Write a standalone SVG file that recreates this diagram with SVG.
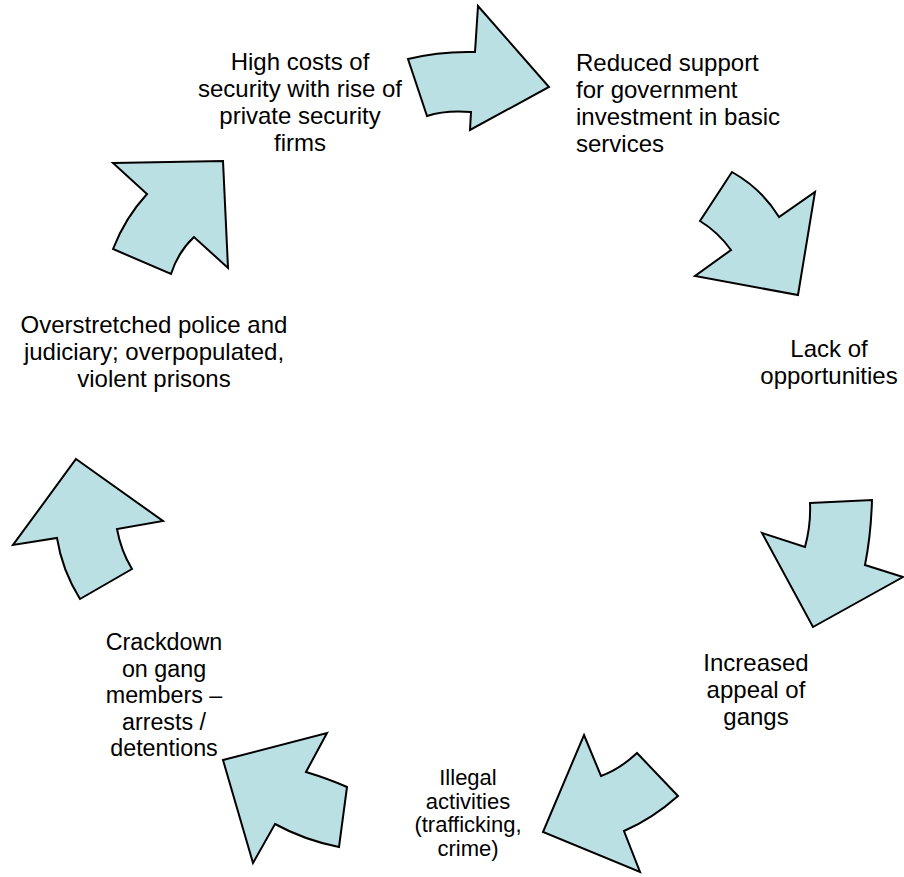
<svg xmlns="http://www.w3.org/2000/svg" width="904" height="877" viewBox="0 0 904 877">
<style>
.arr{fill:#bbe0e3;stroke:#000;stroke-width:2;stroke-linejoin:miter}
.t{font-family:"Liberation Sans",Arial,sans-serif;font-size:24px;fill:#000}
.c{text-anchor:middle}
.s23{font-size:23.3px}
.s22{font-size:22px}
</style>
<rect width="904" height="877" fill="#fff"/>
<g id="connectors">
<path id="arrow1" class="arr" d="M408,59 Q440,51 475,52 L478,6 L549,87 L470,130 L471,112 Q445,110 427,116 Z"/>
<path id="arrow2" class="arr" d="M732,172 Q762,189 779,217 L815,192 L798,295 L695,276 L731,250 Q718,232 700,221 Z"/>
<path id="arrow3" class="arr" d="M810,503 L872,500 Q871,535 865,565 L903,577 L813,627 L762,533 L805,547 Q811,525 810,503 Z"/>
<path id="arrow4" class="arr" d="M584,735 L601,776 Q620,769 637,753 L678,796 Q652,819 624,831 L640,872 L543,832 Z"/>
<path id="arrow5" class="arr" d="M223,760 L327,733 L306,772 Q329,779 347,787 L339,847 Q304,840 275,824 L253,863 Z"/>
<path id="arrow6" class="arr" d="M76,459 L163,521 L117,529 Q121,551 132,569 L80,599 Q62,570 57,538 L13,545 Z"/>
<path id="arrow7" class="arr" d="M113,163 L223,161 L228,268 L194,237 Q178,252 171,274 L113,249 Q125,218 147,194 Z"/>
</g>
<g id="node-high-costs">
<text class="t c" x="300" y="70">High costs of</text>
<text class="t c" x="300" y="97">security with rise of</text>
<text class="t c" x="300" y="124">private security</text>
<text class="t c" x="300" y="151">firms</text>
</g>
<g id="node-reduced-support">
<text class="t" x="576" y="71">Reduced support</text>
<text class="t" x="576" y="98">for government</text>
<text class="t" x="576" y="125">investment in basic</text>
<text class="t" x="576" y="152">services</text>
</g>
<g id="node-lack">
<text class="t c" x="829" y="357">Lack of</text>
<text class="t c" x="829" y="384">opportunities</text>
</g>
<g id="node-appeal">
<text class="t c" x="756" y="671">Increased</text>
<text class="t c" x="756" y="698">appeal of</text>
<text class="t c" x="756" y="725">gangs</text>
</g>
<g id="node-illegal">
<text class="t c s22" x="468" y="785">Illegal</text>
<text class="t c s22" x="468" y="808.5">activities</text>
<text class="t c s22" x="468" y="832">(trafficking,</text>
<text class="t c s22" x="468" y="855.5">crime)</text>
</g>
<g id="node-crackdown">
<text class="t c s23" x="164" y="650">Crackdown</text>
<text class="t c s23" x="164" y="676.5">on gang</text>
<text class="t c s23" x="164" y="703">members –</text>
<text class="t c s23" x="164" y="729.5">arrests /</text>
<text class="t c s23" x="164" y="756">detentions</text>
</g>
<g id="node-overstretched">
<text class="t c" x="154" y="333">Overstretched police and</text>
<text class="t c" x="154" y="360">judiciary; overpopulated,</text>
<text class="t c" x="154" y="387">violent prisons</text>
</g>
</svg>
